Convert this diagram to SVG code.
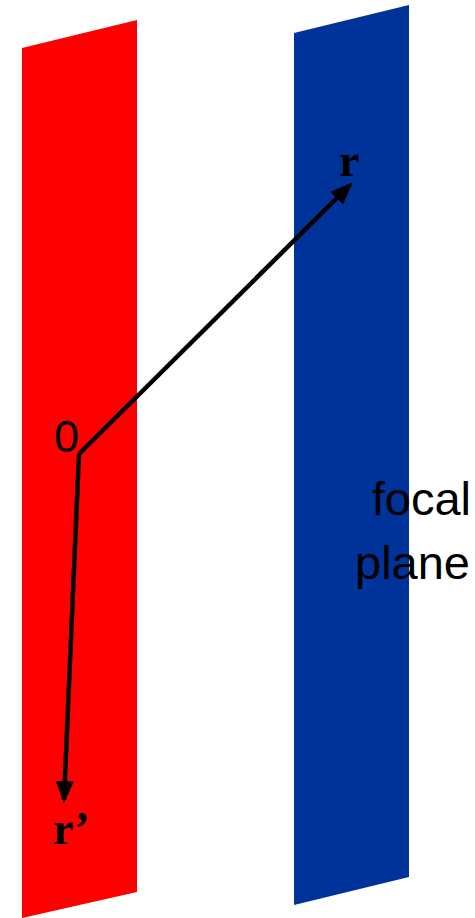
<svg xmlns="http://www.w3.org/2000/svg" width="475" height="918" viewBox="0 0 475 918">
<style>
.vec{stroke:#000;stroke-width:4.5;fill:none}
.lbl{font-family:"Liberation Serif",serif;font-weight:bold;font-size:46px;fill:#000}
.sans{font-family:"Liberation Sans",Arial,sans-serif;font-size:45px;fill:#000}
.big{font-size:47px}
</style>
<defs>
<marker id="ah" markerWidth="5" markerHeight="4" refX="4.2" refY="2" orient="auto" markerUnits="strokeWidth">
<path d="M0,0 L5,2 L0,4 Z" fill="#000"/>
</marker>
</defs>
<g id="lens-plane"><polygon points="22,48 137,20 137,892 22,918" fill="#ff0000"/></g>
<g id="focal-plane"><polygon points="294,33 409,5 409,877 294,905" fill="#003399"/></g>
<g id="connectors">
<line class="vec" x1="79" y1="454" x2="350" y2="185" marker-end="url(#ah)"/>
<line class="vec" x1="79" y1="454" x2="64" y2="800" marker-end="url(#ah)"/>
</g>
<g id="origin"><text class="sans" x="54" y="452">0</text></g>
<g id="r-label"><text class="lbl" x="339" y="176">r</text></g>
<g id="rprime-label"><text class="lbl" x="53" y="844">r’</text></g>
<g id="focal-label"><text class="sans big" text-anchor="end" x="471" y="515">focal</text><text class="sans big" text-anchor="end" x="470" y="579">plane</text></g>
</svg>
